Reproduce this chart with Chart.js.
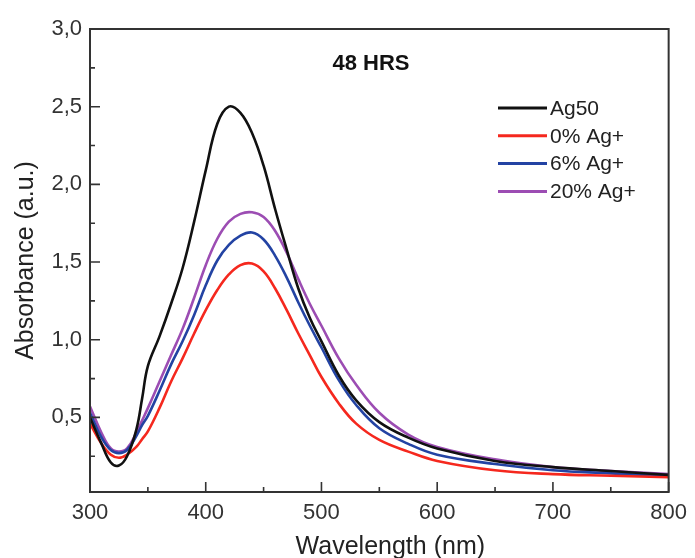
<!DOCTYPE html>
<html>
<head>
<meta charset="utf-8">
<script src="https://cdn.jsdelivr.net/npm/chart.js@4.4.0/dist/chart.umd.min.js"></script>
<style>
  body { margin: 0; background: #fff; }
  #myChart { display: block; }
</style>
</head>
<body>
<canvas id="myChart" width="695" height="558"></canvas>
<script>
// wavelength (nm) shared by all spectra
var wavelengths = [300, 310, 318, 325, 332, 340, 345, 350, 360, 370, 380, 390, 400, 410, 420, 430,
                   440, 450, 460, 470, 480, 490, 500, 515, 530, 550, 575, 600, 650, 700, 750, 800];

var ag50   = [0.50, 0.33, 0.21, 0.19, 0.25, 0.42, 0.62, 0.83, 1.02, 1.23, 1.46, 1.76, 2.09, 2.39, 2.50, 2.46,
              2.33, 2.12, 1.84, 1.58, 1.33, 1.14, 0.99, 0.77, 0.61, 0.47, 0.37, 0.30, 0.22, 0.18, 0.155, 0.13];
var ag0    = [0.46, 0.33, 0.26, 0.24, 0.26, 0.31, 0.36, 0.41, 0.56, 0.73, 0.88, 1.04, 1.19, 1.32, 1.42, 1.48,
              1.49, 1.44, 1.33, 1.19, 1.04, 0.90, 0.76, 0.59, 0.46, 0.355, 0.28, 0.22, 0.16, 0.135, 0.125, 0.115];
var ag6    = [0.53, 0.37, 0.29, 0.27, 0.29, 0.38, 0.45, 0.51, 0.67, 0.84, 0.99, 1.16, 1.35, 1.51, 1.61, 1.67,
              1.69, 1.645, 1.54, 1.40, 1.24, 1.09, 0.95, 0.74, 0.58, 0.43, 0.33, 0.26, 0.20, 0.16, 0.14, 0.12];
var ag20   = [0.57, 0.40, 0.30, 0.28, 0.30, 0.40, 0.48, 0.56, 0.73, 0.90, 1.07, 1.27, 1.48, 1.65, 1.76, 1.81,
              1.82, 1.79, 1.70, 1.56, 1.39, 1.23, 1.09, 0.88, 0.71, 0.53, 0.39, 0.31, 0.23, 0.18, 0.155, 0.135];

var seriesNames  = ['Ag50', '0% Ag+', '6% Ag+', '20% Ag+'];
var seriesColors = ['#111111', '#f5281e', '#2343a3', '#9c4db3'];

var xTicks      = [300, 400, 500, 600, 700, 800];
var xMinorTicks = [350, 450, 550, 650, 750];
var yTicks      = [0.5, 1.0, 1.5, 2.0, 2.5, 3.0];
var yTickLabels = ['0,5', '1,0', '1,5', '2,0', '2,5', '3,0'];
var yMinorTicks = [0.25, 0.75, 1.25, 1.75, 2.25, 2.75];

Chart.defaults.font.family = "'Liberation Sans', Arial, sans-serif";
Chart.defaults.color = '#222';

function toPoints(vals) {
  var pts = [];
  for (var i = 0; i < wavelengths.length; i++) {
    pts.push({x: wavelengths[i], y: vals[i]});
  }
  return pts;
}

var allSeries = [ag50, ag0, ag6, ag20];
var datasets = [];
for (let i = 0; i < allSeries.length; i++) {
  datasets.push({
    label: seriesNames[i],
    data: toPoints(allSeries[i]),
    borderColor: seriesColors[i],
    backgroundColor: seriesColors[i],
    borderWidth: 2.6,
    pointRadius: 0,
    tension: 0.4,
    fill: false
  });
}

// frame, inward ticks, legend and the "48 HRS" note
var decorations = {
  id: 'decorations',
  afterDatasetsDraw: function(chart) {
    var ctx = chart.ctx;
    var a = chart.chartArea;
    var xs = chart.scales.x, ys = chart.scales.y;
    ctx.save();
    ctx.strokeStyle = '#333';
    ctx.lineWidth = 2;
    ctx.strokeRect(a.left, a.top, a.right - a.left, a.bottom - a.top);

    ctx.lineWidth = 1.6;
    ctx.beginPath();
    xTicks.forEach(function(v) {
      var px = xs.getPixelForValue(v);
      ctx.moveTo(px, a.bottom); ctx.lineTo(px, a.bottom - 10);
    });
    xMinorTicks.forEach(function(v) {
      var px = xs.getPixelForValue(v);
      ctx.moveTo(px, a.bottom); ctx.lineTo(px, a.bottom - 5);
    });
    yTicks.forEach(function(v) {
      var py = ys.getPixelForValue(v);
      ctx.moveTo(a.left, py); ctx.lineTo(a.left + 10, py);
    });
    yMinorTicks.forEach(function(v) {
      var py = ys.getPixelForValue(v);
      ctx.moveTo(a.left, py); ctx.lineTo(a.left + 5, py);
    });
    ctx.stroke();

    // note
    ctx.fillStyle = '#111';
    ctx.font = "bold 22px 'Liberation Sans', Arial, sans-serif";
    ctx.textAlign = 'center';
    ctx.textBaseline = 'middle';
    ctx.fillText('48 HRS', 371, 64);

    // legend
    ctx.font = "21px 'Liberation Sans', Arial, sans-serif";
    ctx.textAlign = 'left';
    for (var i = 0; i < chart.data.datasets.length; i++) {
      var ds = chart.data.datasets[i];
      var y = 108 + i * 27.8;
      ctx.strokeStyle = ds.borderColor;
      ctx.lineWidth = 3;
      ctx.beginPath();
      ctx.moveTo(498, y); ctx.lineTo(547, y);
      ctx.stroke();
      ctx.fillStyle = '#222';
      ctx.fillText(ds.label, 550, y + 1);
    }

    // x axis title
    ctx.font = "25px 'Liberation Sans', Arial, sans-serif";
    ctx.textAlign = 'center';
    ctx.fillStyle = '#222';
    ctx.fillText('Wavelength (nm)', (a.left + a.right) / 2 + 11, 547);
    ctx.restore();
  }
};

var config = {
  type: 'line',
  data: { datasets: datasets },
  options: {
    responsive: false,
    animation: false,
    devicePixelRatio: 1,
    layout: { padding: { top: 29, right: 23, left: 0, bottom: 0 } },
    plugins: {
      legend: { display: false },
      tooltip: { enabled: false }
    },
    scales: {
      x: {
        type: 'linear',
        min: 300,
        max: 800,
        grid: { display: false, drawTicks: false },
        border: { display: false },
        afterBuildTicks: function(scale) {
          scale.ticks = xTicks.map(function(v) { return {value: v}; });
        },
        afterFit: function(scale) { scale.height = 66; },
        ticks: {
          padding: 8,
          maxRotation: 0,
          color: '#333',
          font: { size: 22 }
        }
      },
      y: {
        type: 'linear',
        min: 0.02,
        max: 3.0,
        grid: { display: false, drawTicks: false },
        border: { display: false },
        afterBuildTicks: function(scale) {
          scale.ticks = yTicks.map(function(v) { return {value: v}; });
        },
        afterFit: function(scale) { scale.width = 90; },
        ticks: {
          padding: 8,
          color: '#333',
          font: { size: 22 },
          callback: function(value) {
            var k = yTicks.indexOf(value);
            return k >= 0 ? yTickLabels[k] : '';
          }
        },
        title: {
          display: true,
          text: 'Absorbance (a.u.)',
          color: '#222',
          font: { size: 25, lineHeight: 1 },
          padding: { top: 14, bottom: 0 }
        }
      }
    }
  },
  plugins: [decorations]
};

var myChart = new Chart(document.getElementById('myChart'), config);
</script>
</body>
</html>
